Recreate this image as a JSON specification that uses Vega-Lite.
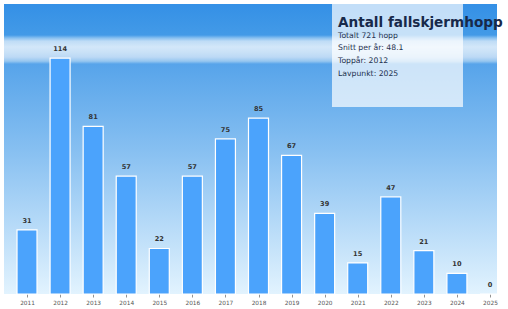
{
  "$schema": "https://vega.github.io/schema/vega-lite/v6.json",
  "width": 493,
  "height": 290,
  "autosize": {"type": "none"},
  "padding": {"left": 4, "top": 4, "right": 11, "bottom": 15},
  "background": "#ffffff",
  "config": {
    "view": {"stroke": null},
    "font": "DejaVu Sans",
    "axisX": {
      "labelOverlap": false, "grid": false, "domain": false,
      "tickCount": 15, "tickMinStep": 1, "format": "d",
      "tickSize": 3, "tickColor": "#777777", "tickWidth": 0.8,
      "labelFontSize": 5.8, "labelColor": "#555555", "labelPadding": 2
    }
  },
  "datasets": {
    "jumps": [
      {"year": 2011, "jumps": 31},
      {"year": 2012, "jumps": 114},
      {"year": 2013, "jumps": 81},
      {"year": 2014, "jumps": 57},
      {"year": 2015, "jumps": 22},
      {"year": 2016, "jumps": 57},
      {"year": 2017, "jumps": 75},
      {"year": 2018, "jumps": 85},
      {"year": 2019, "jumps": 67},
      {"year": 2020, "jumps": 39},
      {"year": 2021, "jumps": 15},
      {"year": 2022, "jumps": 47},
      {"year": 2023, "jumps": 21},
      {"year": 2024, "jumps": 10},
      {"year": 2025, "jumps": 0}
    ]
  },
  "layer": [
    {
      "data": {"values": [{}]},
      "mark": {
        "type": "rect",
        "fill": {
          "gradient": "linear", "x1": 0, "y1": 0, "x2": 0, "y2": 1,
          "stops": [
            {"offset": 0, "color": "#3490e6"},
            {"offset": 0.107, "color": "#439ae7"},
            {"offset": 0.117, "color": "#86bff0"},
            {"offset": 0.128, "color": "#bfdcf6"},
            {"offset": 0.148, "color": "#d3e7f9"},
            {"offset": 0.166, "color": "#c9e1f7"},
            {"offset": 0.183, "color": "#bcd9f5"},
            {"offset": 0.197, "color": "#97c7f0"},
            {"offset": 0.207, "color": "#57a4ea"},
            {"offset": 0.5, "color": "#86bff1"},
            {"offset": 1, "color": "#e2f3fe"}
          ]
        }
      },
      "encoding": {
        "x": {"value": 0},
        "x2": {"value": "width"},
        "y": {"value": 0},
        "y2": {"value": "height"}
      }
    },
    {
      "data": {"name": "jumps"},
      "mark": {"type": "bar", "width": 20, "fill": "#4ba3fc", "stroke": "#ffffff", "strokeWidth": 1.2},
      "encoding": {
        "x": {
          "field": "year", "type": "quantitative",
          "scale": {"domain": [2010.304, 2025.212], "nice": false, "zero": false, "padding": 0},
          "axis": {
            "title": null, "format": "d", "labelOverlap": false, "tickCount": 15,
            "values": [2011, 2012, 2013, 2014, 2015, 2016, 2017, 2018, 2019, 2020, 2021, 2022, 2023, 2024, 2025]
          }
        },
        "y": {"field": "jumps", "type": "quantitative", "scale": {"domain": [0, 140.2], "nice": false, "padding": 0}, "axis": null}
      }
    },
    {
      "data": {"name": "jumps"},
      "mark": {"type": "text", "baseline": "alphabetic", "dy": -7, "fontSize": 6.6, "fontWeight": "bold", "color": "#333333"},
      "encoding": {
        "x": {"field": "year", "type": "quantitative"},
        "y": {"field": "jumps", "type": "quantitative"},
        "text": {"field": "jumps", "type": "quantitative"}
      }
    },
    {
      "data": {"values": [{}]},
      "mark": {"type": "rect", "width": 131, "height": 103, "fill": "#ffffff", "fillOpacity": 0.7},
      "encoding": {
        "x": {"datum": 2022.203, "type": "quantitative"},
        "y": {"datum": 115.33, "type": "quantitative"}
      }
    },
    {
      "data": {"values": [{}]},
      "mark": {"type": "text", "align": "left", "baseline": "alphabetic", "fontSize": 13.6, "fontWeight": "bold", "color": "#17294a", "text": "Antall fallskjermhopp"},
      "encoding": {
        "x": {"datum": 2020.404, "type": "quantitative"},
        "y": {"datum": 129.1, "type": "quantitative"}
      }
    },
    {
      "data": {"values": [{}]},
      "mark": {"type": "text", "align": "left", "baseline": "alphabetic", "fontSize": 7.7, "color": "#1f3250", "text": "Totalt 721 hopp"},
      "encoding": {
        "x": {"datum": 2020.404, "type": "quantitative"},
        "y": {"datum": 123.9, "type": "quantitative"}
      }
    },
    {
      "data": {"values": [{}]},
      "mark": {"type": "text", "align": "left", "baseline": "alphabetic", "fontSize": 7.7, "color": "#1f3250", "text": "Snitt per år: 48.1"},
      "encoding": {
        "x": {"datum": 2020.404, "type": "quantitative"},
        "y": {"datum": 117.8, "type": "quantitative"}
      }
    },
    {
      "data": {"values": [{}]},
      "mark": {"type": "text", "align": "left", "baseline": "alphabetic", "fontSize": 7.7, "color": "#1f3250", "text": "Toppår: 2012"},
      "encoding": {
        "x": {"datum": 2020.404, "type": "quantitative"},
        "y": {"datum": 111.5, "type": "quantitative"}
      }
    },
    {
      "data": {"values": [{}]},
      "mark": {"type": "text", "align": "left", "baseline": "alphabetic", "fontSize": 7.7, "color": "#1f3250", "text": "Lavpunkt: 2025"},
      "encoding": {
        "x": {"datum": 2020.404, "type": "quantitative"},
        "y": {"datum": 105.4, "type": "quantitative"}
      }
    }
  ]
}
